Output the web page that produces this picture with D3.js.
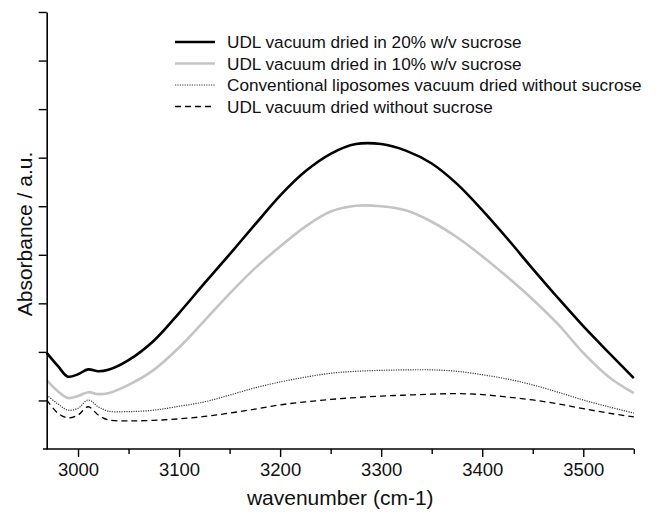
<!DOCTYPE html>
<html>
<head>
<meta charset="utf-8">
<script src="https://cdn.jsdelivr.net/npm/d3@7"></script>
<style>
  html, body { margin: 0; padding: 0; background: #fff; }
  svg { display: block; font-family: Arial, "Liberation Sans", Helvetica, sans-serif; }
</style>
</head>
<body>
<svg id="chart" width="672" height="514"></svg>
<script>
// Wavenumber grid (cm-1)
const wavenumbers = [2969, 2980, 2990, 3000, 3010, 3020, 3030, 3050, 3075, 3100, 3125, 3150, 3175, 3200,
  3225, 3250, 3275, 3300, 3325, 3350, 3375, 3400, 3425, 3450, 3475, 3500, 3525, 3550];

// Absorbance (arbitrary units, one unit = one y tick interval)
const udl20 = [1.98, 1.71, 1.49, 1.54, 1.64, 1.60, 1.63, 1.83, 2.23, 2.80, 3.41, 4.01, 4.62, 5.22,
  5.72, 6.08, 6.28, 6.28, 6.14, 5.88, 5.46, 4.92, 4.33, 3.71, 3.11, 2.53, 1.99, 1.46];
const udl10 = [1.42, 1.19, 1.05, 1.09, 1.17, 1.13, 1.15, 1.32, 1.63, 2.09, 2.64, 3.20, 3.72, 4.17,
  4.58, 4.89, 5.01, 5.00, 4.91, 4.68, 4.36, 3.97, 3.54, 3.08, 2.57, 1.98, 1.49, 1.15];
const conventional = [1.11, 0.93, 0.80, 0.84, 1.01, 0.87, 0.78, 0.77, 0.80, 0.88, 0.97, 1.11, 1.26, 1.38,
  1.48, 1.56, 1.60, 1.62, 1.63, 1.63, 1.60, 1.53, 1.44, 1.32, 1.17, 1.01, 0.87, 0.74];
const udlNoSucrose = [1.01, 0.74, 0.64, 0.70, 0.87, 0.70, 0.60, 0.58, 0.59, 0.62, 0.67, 0.74, 0.82, 0.91,
  0.97, 1.02, 1.06, 1.09, 1.11, 1.13, 1.14, 1.12, 1.07, 1.01, 0.93, 0.83, 0.74, 0.66];

const seriesNames = [
  "UDL vacuum dried in 20% w/v sucrose",
  "UDL vacuum dried in 10% w/v sucrose",
  "Conventional liposomes vacuum dried without sucrose",
  "UDL vacuum dried without sucrose"
];
const xMajorTicks = [3000, 3100, 3200, 3300, 3400, 3500];
const xMinorTicks = [3050, 3150, 3250, 3350, 3450, 3550];
const yTicks = [1, 2, 3, 4, 5, 6, 7, 8, 9];

const styles = [
  { stroke: "#000000", width: 2.6, dash: null },
  { stroke: "#c4c4c4", width: 2.6, dash: null },
  { stroke: "#3a3a3a", width: 1.2, dash: "1.2,1.2" },
  { stroke: "#000000", width: 1.3, dash: "6,4" }
];

const svg = d3.select("#chart");
const x = d3.scaleLinear().domain([2969, 3550]).range([46.7, 633.8]);
const y = d3.scaleLinear().domain([0, 9]).range([449, 12]);

const seriesValues = [udl20, udl10, conventional, udlNoSucrose];
const line = d3.line()
  .x(d => x(d[0]))
  .y(d => y(d[1]))
  .curve(d3.curveCatmullRom.alpha(0.5));

// Curves
seriesValues.forEach((vals, i) => {
  const pts = wavenumbers.map((w, j) => [w, vals[j]]);
  svg.append("path")
    .attr("d", line(pts))
    .attr("fill", "none")
    .attr("stroke", styles[i].stroke)
    .attr("stroke-width", styles[i].width)
    .attr("stroke-dasharray", styles[i].dash)
    .attr("stroke-linejoin", "round");
});

// X axis
const xAxisG = svg.append("g").attr("transform", `translate(0,${y(0)})`);
xAxisG.call(d3.axisBottom(x).tickValues(xMajorTicks).tickSize(8).tickSizeOuter(0).tickPadding(6).tickFormat(d3.format("d")));
xAxisG.select(".domain").attr("d", `M43,0H${x(3550)}`).attr("stroke", "#000").attr("stroke-width", 1.6);
xAxisG.selectAll(".tick line").attr("stroke", "#000").attr("stroke-width", 1.4);
xAxisG.selectAll(".tick text").attr("font-size", "18.5px").attr("fill", "#111").attr("font-family", "Arial, 'Liberation Sans', sans-serif");
const xMinorG = svg.append("g").attr("transform", `translate(0,${y(0)})`);
xMinorG.call(d3.axisBottom(x).tickValues(xMinorTicks).tickSize(5).tickFormat(""));
xMinorG.select(".domain").remove();
xMinorG.selectAll(".tick line").attr("stroke", "#000").attr("stroke-width", 1.4);

// Y axis
const yAxisG = svg.append("g").attr("transform", `translate(${x(2969)},0)`);
yAxisG.call(d3.axisLeft(y).tickValues(yTicks).tickSize(8).tickSizeOuter(0).tickFormat(""));
yAxisG.select(".domain").attr("stroke", "#000").attr("stroke-width", 1.6);
yAxisG.selectAll(".tick line").attr("stroke", "#000").attr("stroke-width", 1.4);

// Axis titles
svg.append("text")
  .attr("x", (x(2969) + x(3550)) / 2)
  .attr("y", 505)
  .attr("text-anchor", "middle")
  .attr("font-size", "21px")
  .attr("fill", "#111")
  .text("wavenumber (cm-1)");

svg.append("text")
  .attr("transform", "translate(32,234) rotate(-90)")
  .attr("text-anchor", "middle")
  .attr("font-size", "21px")
  .attr("fill", "#111")
  .text("Absorbance / a.u.");

// Legend
const legendRows = [42, 63.5, 85, 106.5];
const legend = svg.append("g");
seriesNames.forEach((name, i) => {
  const ly = legendRows[i];
  legend.append("line")
    .attr("x1", 175).attr("x2", 215)
    .attr("y1", ly).attr("y2", ly)
    .attr("stroke", styles[i].stroke)
    .attr("stroke-width", styles[i].width)
    .attr("stroke-dasharray", styles[i].dash);
  legend.append("text")
    .attr("x", 227)
    .attr("y", ly)
    .attr("dy", "0.35em")
    .attr("font-size", "17.2px")
    .attr("fill", "#111")
    .text(name);
});
</script>
</body>
</html>
